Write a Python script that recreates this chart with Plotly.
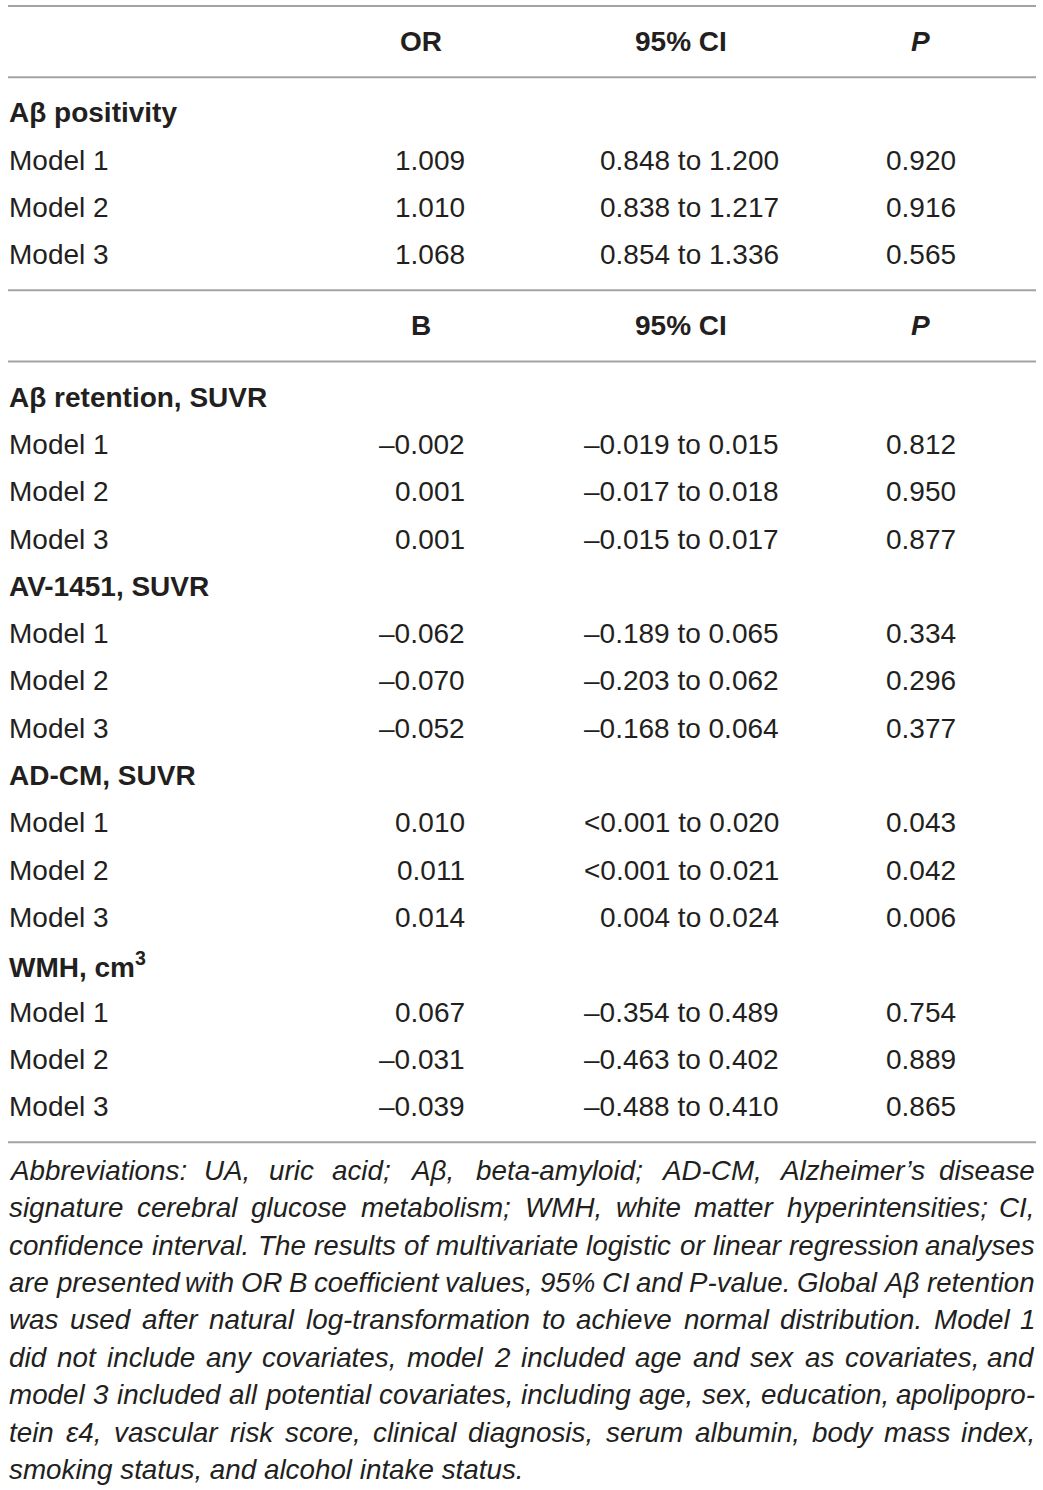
import plotly.graph_objects as go

# table data
or_groups = ["Aβ positivity"]
or_models = [["Model 1", "Model 2", "Model 3"]]
or_est = [["1.009", "1.010", "1.068"]]
or_ci = [["0.848 to 1.200", "0.838 to 1.217", "0.854 to 1.336"]]
or_p = [["0.920", "0.916", "0.565"]]

b_groups = ["Aβ retention, SUVR", "AV-1451, SUVR", "AD-CM, SUVR", "WMH, cm<sup>3</sup>"]
b_models = [["Model 1", "Model 2", "Model 3"]] * 4
b_est = [["–0.002", "0.001", "0.001"],
         ["–0.062", "–0.070", "–0.052"],
         ["0.010", "0.011", "0.014"],
         ["0.067", "–0.031", "–0.039"]]
b_ci = [["–0.019 to 0.015", "–0.017 to 0.018", "–0.015 to 0.017"],
        ["–0.189 to 0.065", "–0.203 to 0.062", "–0.168 to 0.064"],
        ["<0.001 to 0.020", "<0.001 to 0.021", "0.004 to 0.024"],
        ["–0.354 to 0.489", "–0.463 to 0.402", "–0.488 to 0.410"]]
b_p = [["0.812", "0.950", "0.877"],
       ["0.334", "0.296", "0.377"],
       ["0.043", "0.042", "0.006"],
       ["0.754", "0.889", "0.865"]]

headers_or = ["OR", "95% CI", "<i>P</i>"]
headers_b = ["B", "95% CI", "<i>P</i>"]

footnote = [
    "Abbreviations: UA, uric acid; Aβ, beta-amyloid; AD-CM, Alzheimer’s disease",
    "signature cerebral glucose metabolism; WMH, white matter hyperintensities; CI,",
    "confidence interval. The results of multivariate logistic or linear regression analyses",
    "are presented with OR B coefficient values, 95% CI and P-value. Global Aβ retention",
    "was used after natural log-transformation to achieve normal distribution. Model 1",
    "did not include any covariates, model 2 included age and sex as covariates, and",
    "model 3 included all potential covariates, including age, sex, education, apolipopro-",
    "tein ε4, vascular risk score, clinical diagnosis, serum albumin, body mass index,",
    "smoking status, and alcohol intake status.",
]

W, H = 1043, 1490
FONT = "Liberation Sans, Arial, Helvetica, sans-serif"
TXT = "#231f20"
RULE = "#a3a3a3"
FS = 28
X_LEFT, X_RIGHT = 8, 1036
HEAD_X = [421, 681, 920]
COL_X = [466, 780, 957]
STEP = 47.3
GAP = 35.6

annotations = []
shapes = []


def text(x, y, s, anchor="left", bold=False, italic=False, size=FS):
    annotations.append(dict(
        x=x, y=y, xref="x", yref="y", text=s, showarrow=False,
        xanchor=anchor, yanchor="middle", borderpad=0,
        font=dict(family=FONT, size=size, color=TXT,
                  weight="bold" if bold else "normal",
                  style="italic" if italic else "normal")))


def rule(y):
    shapes.append(dict(type="line", xref="x", yref="y", x0=X_LEFT, x1=X_RIGHT,
                       y0=y, y1=y, line=dict(color=RULE, width=2)))


def section(y, headers, groups, models, est, ci, p):
    y += GAP
    for hx, h in zip(HEAD_X, headers):
        text(hx, y, h, anchor="center", bold=True)
    y += GAP
    rule(y)
    y += GAP - STEP
    for g, ms, es, cs, ps in zip(groups, models, est, ci, p):
        y += STEP
        text(X_LEFT, y, g, bold=True)
        for m, e, c, pv in zip(ms, es, cs, ps):
            y += STEP
            text(X_LEFT, y, m)
            text(COL_X[0], y, e, anchor="right")
            text(COL_X[1], y, c, anchor="right")
            text(COL_X[2], y, pv, anchor="right")
    y += GAP
    rule(y)
    return y


y = 6
rule(y)
y = section(y, headers_or, or_groups, or_models, or_est, or_ci, or_p)
y = section(y, headers_b, b_groups, b_models, b_est, b_ci, b_p)

# Arial-like advance widths (1/1000 em) to spread words for justified lines
AW = {c: 556 for c in "0123456789abdeghnopqu"}
AW.update({" ": 278, ".": 278, ",": 278, ";": 278, ":": 278, "-": 333, "%": 889,
           "’": 222, "c": 500, "k": 500, "s": 500, "v": 500, "x": 500, "y": 500,
           "z": 500, "f": 278, "t": 278, "i": 222, "j": 222, "l": 222, "r": 333,
           "m": 833, "w": 722, "A": 667, "B": 667, "C": 722, "D": 722, "E": 667,
           "G": 778, "H": 722, "I": 278, "M": 833, "O": 778, "P": 667, "R": 722,
           "T": 611, "U": 722, "W": 944, "β": 760, "ε": 470})


def width(s, size):
    return sum(AW.get(ch, 556) for ch in s) * size / 1000.0


FN_FS = 27.8
FN_STEP = 37.4
MIN_GAP = 0.24  # em
fy = y + 28
for i, line in enumerate(footnote):
    words = line.split(" ")
    if i == len(footnote) - 1:
        text(X_LEFT, fy, line, italic=True, size=FN_FS)
    else:
        # shrink a line a little if it cannot keep a readable word gap
        em_words = sum(width(w, 1000) for w in words) / 1000.0
        fit = (X_RIGHT - X_LEFT) / (em_words + MIN_GAP * (len(words) - 1))
        size = min(FN_FS, fit)
        ws = [width(w, size) for w in words]
        gap = (X_RIGHT - X_LEFT - sum(ws)) / (len(words) - 1)
        x = X_LEFT
        for k, (w, wd) in enumerate(zip(words, ws)):
            if k == len(words) - 1:
                text(X_RIGHT, fy, w, anchor="right", italic=True, size=size)
            else:
                text(x, fy, w, italic=True, size=size)
            x += wd + gap
    fy += FN_STEP

fig = go.Figure()
fig.update_layout(
    width=W, height=H,
    margin=dict(l=0, r=0, t=0, b=0),
    paper_bgcolor="white", plot_bgcolor="white",
    xaxis=dict(range=[0, W], visible=False, fixedrange=True),
    yaxis=dict(range=[H, 0], visible=False, fixedrange=True),
    annotations=annotations, shapes=shapes,
    showlegend=False,
)
# drop the page's default body margin so the figure sits at the window's corner
fig.write_html("out.html", config={"displayModeBar": False},
               post_script="document.body.style.margin='0';")
